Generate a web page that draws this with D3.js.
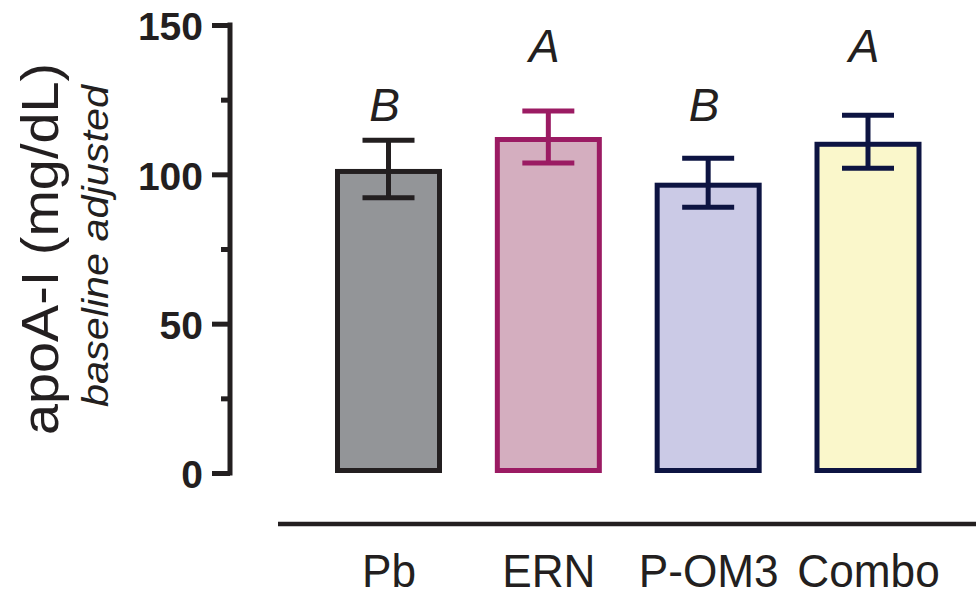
<!DOCTYPE html>
<html><head><meta charset="utf-8">
<script src="https://cdn.jsdelivr.net/npm/d3@7"></script>
<style>html,body{margin:0;padding:0;background:#fff;}svg{display:block;}</style>
</head><body>
<svg id="chart" width="976" height="598"></svg>
<script>
const categories = ["Pb", "ERN", "P-OM3", "Combo"];
const means = [101.8, 112.5, 97.2, 110.9];
const errors = [9.6, 8.7, 8.2, 8.9];
const sigLetters = ["B", "A", "B", "A"];
const letterLevels = [117.8, 137.6, 117.8, 137.6];
const fills = ["#939598", "#d4aebf", "#cbcae6", "#faf7cb"];
const strokes = ["#231f20", "#9b1b63", "#0d1442", "#0d1442"];
const majorTicks = [0, 50, 100, 150];
const minorTicks = [25, 75, 125];

const svg = d3.select("#chart");
const y = d3.scaleLinear().domain([0, 150]).range([473, 25]);
const x = d3.scalePoint().domain(categories).range([388.5, 868]);
const barW = 107, sw = 5, capW = 52;
const ink = "#231f20";
const font = "Liberation Sans, Arial, sans-serif";

// y axis
const yAxis = svg.append("g").attr("transform", "translate(230,0)")
  .call(d3.axisLeft(y).tickValues(majorTicks).tickSize(18).tickSizeOuter(0).tickPadding(9));
yAxis.select(".domain").attr("stroke", ink).attr("stroke-width", 5).attr("d", `M0,${y(150)-2.5}V${y(0)+2.5}`);
yAxis.selectAll(".tick line").attr("stroke", ink).attr("stroke-width", 5);
yAxis.selectAll(".tick text").attr("fill", ink).attr("font-family", font)
  .attr("font-weight", "bold").attr("font-size", 39).attr("dy", "0.38em");
const yMinor = svg.append("g").attr("transform", "translate(230,0)")
  .call(d3.axisLeft(y).tickValues(minorTicks).tickSize(9).tickFormat(""));
yMinor.select(".domain").remove();
yMinor.selectAll(".tick line").attr("stroke", ink).attr("stroke-width", 5);

// bars (stroke inside)
const g = svg.append("g");
categories.forEach((c, i) => {
  const cx = x(c);
  g.append("rect")
    .attr("x", cx - barW/2 + sw/2).attr("y", y(means[i]) + sw/2)
    .attr("width", barW - sw).attr("height", y(0) - y(means[i]) - sw)
    .attr("fill", fills[i]).attr("stroke", strokes[i]).attr("stroke-width", sw);
  const hi = y(means[i] + errors[i]), lo = y(means[i] - errors[i]);
  g.append("line").attr("x1", cx).attr("x2", cx).attr("y1", hi).attr("y2", lo)
    .attr("stroke", strokes[i]).attr("stroke-width", sw);
  [hi, lo].forEach(v => g.append("line").attr("x1", cx - capW/2).attr("x2", cx + capW/2)
    .attr("y1", v).attr("y2", v).attr("stroke", strokes[i]).attr("stroke-width", sw));
  g.append("text").attr("x", cx - 4).attr("y", y(letterLevels[i]))
    .attr("text-anchor", "middle").attr("font-family", font)
    .attr("font-style", "italic").attr("font-size", 46).attr("fill", ink).text(sigLetters[i]);
});

// x axis line and labels
svg.append("line").attr("x1", 278).attr("x2", 976).attr("y1", 524).attr("y2", 524)
  .attr("stroke", ink).attr("stroke-width", 4.5);
const xAxis = svg.append("g").attr("transform", "translate(0,587)")
  .call(d3.axisBottom(x).tickSize(0).tickPadding(0));
xAxis.select(".domain").remove();
xAxis.selectAll(".tick text").attr("fill", ink).attr("font-family", font)
  .attr("font-size", 47).attr("dy", 0).attr("transform", "scale(0.94,1)");

// y titles
svg.append("text").attr("transform", "translate(58,249) rotate(-90)")
  .attr("text-anchor", "middle").attr("font-family", font)
  .attr("font-size", 52).attr("fill", ink)
  .attr("textLength", 372).attr("lengthAdjust", "spacingAndGlyphs").text("apoA-I (mg/dL)");
svg.append("text").attr("transform", "translate(108,246) rotate(-90)")
  .attr("text-anchor", "middle").attr("font-family", font)
  .attr("font-style", "italic").attr("font-size", 37).attr("fill", ink)
  .attr("textLength", 322).attr("lengthAdjust", "spacingAndGlyphs").text("baseline adjusted");
</script>
</body></html>
